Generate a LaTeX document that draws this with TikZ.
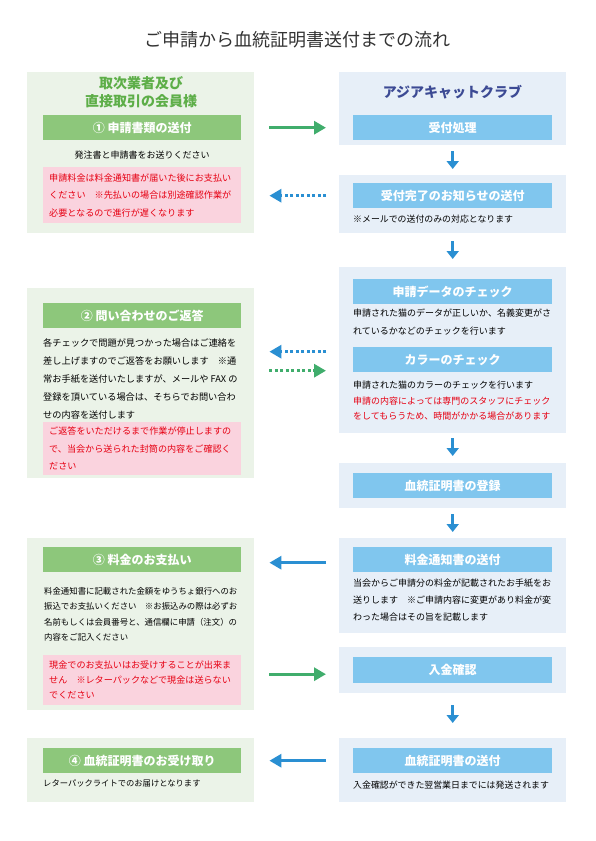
\documentclass[tikz,border=0pt]{standalone}
\usepackage{fontspec}
\setmainfont{Noto Sans CJK JP}
\usepackage{xcolor}
\usepackage{tikz}
\usetikzlibrary{arrows.meta}

\definecolor{lpanelbg}{HTML}{EBF3E8}
\definecolor{rpanelbg}{HTML}{E7EFF8}
\definecolor{gbarfill}{HTML}{8DC77B}
\definecolor{bbarfill}{HTML}{80C6EE}
\definecolor{pinkfill}{HTML}{FAD3DE}
\definecolor{notered}{HTML}{E60012}
\definecolor{headgreen}{HTML}{5DAE48}
\definecolor{headnavy}{HTML}{3C4A94}
\definecolor{arrowgreen}{HTML}{40AD6C}
\definecolor{arrowblue}{HTML}{2A8FD2}
\definecolor{titlegray}{HTML}{333333}

\begin{document}
\begin{tikzpicture}[x=1pt, y=-1pt,
  lpanel/.style={fill=lpanelbg, anchor=north west, minimum width=227pt, inner sep=0pt},
  rpanel/.style={fill=rpanelbg, anchor=north west, minimum width=227pt, inner sep=0pt},
  gbar/.style={fill=gbarfill, text=white, anchor=north west, minimum width=198pt,
    minimum height=25pt, inner sep=0pt, font=\bfseries\fontsize{12}{14}\selectfont},
  bbar/.style={gbar, fill=bbarfill, minimum width=199pt},
  body/.style={anchor=north west, align=left, inner sep=0pt, font=\fontsize{9}{17.5}\selectfont},
  note/.style={fill=pinkfill, text=notered, anchor=north west, align=left, text width=186pt,
    inner xsep=6pt, inner ysep=0pt, font=\fontsize{9.1}{17.5}\selectfont},
  toright/.style={shorten <=15pt, shorten >=13pt},
  toleft/.style={shorten <=13pt, shorten >=15pt},
  garrow/.style={draw=arrowgreen, line width=3pt, -{Triangle[length=12pt,width=13pt]}},
  barrow/.style={draw=arrowblue, line width=3pt, -{Triangle[length=12pt,width=13pt]}},
  dotline/.style={dash pattern=on 3pt off 2.5pt},
  darrow/.style={draw=arrowblue, line width=3pt, -{Triangle[length=8pt,width=12pt]}}]

  \useasboundingbox (0,0) rectangle (595,841);

  % Titel
  \node[text=titlegray, font=\fontsize{18}{20}\selectfont] (title) at (297,40) {ご申請から血統証明書送付までの流れ};

  % linke Spalte
  \node[lpanel, minimum height=161pt] (lp1) at (27,72) {};
  \node[text=headgreen, align=center, font=\bfseries\fontsize{14}{18}\selectfont] (lhead) at (141,92) {取次業者及び\\直接取引の会員様};
  \node[gbar] (l1) at (43,115) {① 申請書類の送付};
  \node[font=\fontsize{9}{11}\selectfont] (l1txt) at (142,155) {発注書と申請書をお送りください};
  \node[note, minimum height=56pt] (pk1) at (43,167) {申請料金は料金通知書が届いた後にお支払い\\ください　※先払いの場合は別途確認作業が\\必要となるので進行が遅くなります};

  \node[lpanel, minimum height=190pt] (lp2) at (27,288) {};
  \node[gbar] (l2) at (43,303) {② 問い合わせのご返答};
  \node[body, font=\fontsize{9.2}{18}\selectfont] (l2txt) at (43,338) {各チェックで問題が見つかった場合はご連絡を\\差し上げますのでご返答をお願いします　※通\\常お手紙を送付いたしますが、メールや FAX の\\登録を頂いている場合は、そちらでお問い合わ\\せの内容を送付します};
  \node[note, minimum height=53pt] (pk2) at (43,422) {ご返答をいただけるまで作業が停止しますの\\で、当会から送られた封筒の内容をご確認く\\ださい};

  \node[lpanel, minimum height=172pt] (lp3) at (27,538) {};
  \node[gbar] (l3) at (43,547) {③ 料金のお支払い};
  \node[body, font=\fontsize{8.4}{15.4}\selectfont] (l3txt) at (44,587) {料金通知書に記載された金額をゆうちょ銀行へのお\\振込でお支払いください　※お振込みの際は必ずお\\名前もしくは会員番号と、通信欄に申請（注文）の\\内容をご記入ください};
  \node[note, minimum height=50pt, font=\fontsize{9.1}{15}\selectfont] (pk3) at (43,655) {現金でのお支払いはお受けすることが出来ま\\せん　※レターパックなどで現金は送らない\\でください};

  \node[lpanel, minimum height=64pt] (lp4) at (27,738) {};
  \node[gbar] (l4) at (43,748) {④ 血統証明書のお受け取り};
  \node[anchor=west, inner sep=0pt, font=\fontsize{8.3}{10}\selectfont] (l4txt) at (43,783) {レターパックライトでのお届けとなります};

  % rechte Spalte
  \node[rpanel, minimum height=73pt] (rp1) at (339,72) {};
  \node[text=headnavy, font=\bfseries\fontsize{14}{16}\selectfont] (rhead) at (452.5,92) {アジアキャットクラブ};
  \node[bbar] (r1) at (353,115) {受付処理};

  \node[rpanel, minimum height=58pt] (rp2) at (339,175) {};
  \node[bbar] (r2) at (353,183) {受付完了のお知らせの送付};
  \node[anchor=west, inner sep=0pt, font=\fontsize{8.9}{10}\selectfont] (r2txt) at (353,219) {※メールでの送付のみの対応となります};

  \node[rpanel, minimum height=166pt] (rp3) at (339,267) {};
  \node[bbar] (r3a) at (353,279) {申請データのチェック};
  \node[body, font=\fontsize{9}{17.5}\selectfont] (r3atxt) at (353,309) {申請された猫のデータが正しいか、名義変更がさ\\れているかなどのチェックを行います};
  \node[bbar] (r3b) at (353,347) {カラーのチェック};
  \node[body, font=\fontsize{9}{15.5}\selectfont] (r3btxt) at (353,381) {申請された猫のカラーのチェックを行います\\{\color{notered}申請の内容によっては専門のスタッフにチェック}\\{\color{notered}をしてもらうため、時間がかかる場合があります}};

  \node[rpanel, minimum height=45pt] (rp4) at (339,463) {};
  \node[bbar] (r4) at (353,473) {血統証明書の登録};

  \node[rpanel, minimum height=95pt] (rp5) at (339,538) {};
  \node[bbar] (r5) at (353,547) {料金通知書の送付};
  \node[body, font=\fontsize{9}{17}\selectfont] (r5txt) at (353,579) {当会からご申請分の料金が記載されたお手紙をお\\送りします　※ご申請内容に変更があり料金が変\\わった場合はその旨を記載します};

  \node[rpanel, minimum height=46pt] (rp6) at (339,647) {};
  \node[bbar, minimum height=26pt] (r6) at (353,657) {入金確認};

  \node[rpanel, minimum height=64pt] (rp7) at (339,738) {};
  \node[bbar] (r7) at (353,748) {血統証明書の送付};
  \node[anchor=west, inner sep=0pt, font=\fontsize{8.9}{10}\selectfont] (r7txt) at (353,785) {入金確認ができた翌営業日までには発送されます};

  % Pfeile nach unten
  \draw[darrow, shorten <=6pt, shorten >=6pt] (rp1.south -| r1.south) -- (rp2.north -| r1.south);
  \draw[darrow, shorten <=8pt, shorten >=8pt] (rp2.south -| r1.south) -- (rp3.north -| r1.south);
  \draw[darrow, shorten <=5pt, shorten >=7pt] (rp3.south -| r1.south) -- (rp4.north -| r1.south);
  \draw[darrow, shorten <=6pt, shorten >=6pt] (rp4.south -| r1.south) -- (rp5.north -| r1.south);
  \draw[darrow, shorten <=12pt, shorten >=15pt] (rp6.south -| r1.south) -- (rp7.north -| r1.south);

  % Pfeile zwischen den Spalten
  \draw[garrow, toright] (l1.east -| lp1.east) -- (l1.east -| rp1.west);
  \draw[barrow, dotline, toleft] (r2.west -| rp2.west) -- (r2.west -| lp1.east);
  \draw[barrow, dotline, toleft] ([yshift=8pt]r3b.west -| rp3.west) -- ([yshift=8pt]r3b.west -| lp2.east);
  \draw[garrow, dotline, toright] ([yshift=-11pt]r3b.west -| lp2.east) -- ([yshift=-11pt]r3b.west -| rp3.west);
  \draw[barrow, toleft] ([yshift=-3pt]r5.west -| rp5.west) -- ([yshift=-3pt]r5.west -| lp3.east);
  \draw[garrow, toright] ([yshift=-4pt]r6.west -| lp3.east) -- ([yshift=-4pt]r6.west -| rp6.west);
  \draw[barrow, toleft] (r7.west -| rp7.west) -- (r7.west -| lp4.east);
\end{tikzpicture}
\end{document}
